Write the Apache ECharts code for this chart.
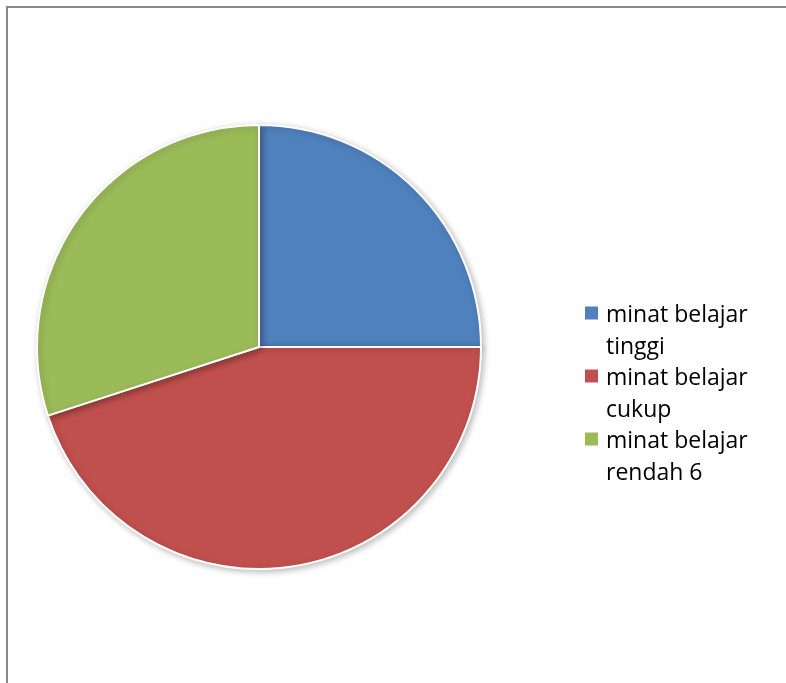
<!DOCTYPE html>
<html>
<head>
<meta charset="utf-8">
<script src="https://cdn.jsdelivr.net/npm/echarts@6/dist/echarts.min.js"></script>
<style>
html,body{margin:0;padding:0;background:#fff;}
#chart{width:786px;height:683px;}
</style>
</head>
<body>
<div id="chart"></div>
<script>
var categories = ["minat belajar\ntinggi", "minat belajar\ncukup", "minat belajar\nrendah 6"];
var values = [5, 9, 6];
var colors = ["#4F81BD", "#C0504D", "#9BBB59"];

var chart = echarts.init(document.getElementById('chart'), null, {renderer: 'canvas'});
var data = categories.map(function (c, i) {
  return {name: c, value: values[i], itemStyle: {color: colors[i]}};
});
// square marker aligned with the first text line of each two-line legend entry
var legendIcon = 'path://M0,0L0,0Z M0,6.5L13,6.5L13,19.5L0,19.5Z M0,63L0,63Z';
chart.setOption({
  animation: false,
  backgroundColor: '#ffffff',
  graphic: [{
    type: 'rect',
    shape: {x: 7, y: 7, width: 800, height: 700},
    style: {fill: 'none', stroke: '#898989', lineWidth: 2},
    silent: true
  }],
  legend: {
    orient: 'vertical',
    left: 585,
    top: 300,
    padding: 0,
    itemWidth: 13,
    itemHeight: 63,
    itemGap: 0,
    icon: legendIcon,
    itemStyle: {borderWidth: 0, shadowBlur: 0, shadowOffsetX: 0, shadowOffsetY: 0},
    data: categories,
    textStyle: {
      fontFamily: 'Open Sans',
      fontSize: 23,
      lineHeight: 31.5,
      color: '#000000',
      padding: [0, 0, 0, 3]
    }
  },
  series: [{
    type: 'pie',
    center: [259, 347],
    radius: 222,
    startAngle: 90,
    clockwise: true,
    label: {show: false},
    labelLine: {show: false},
    emphasis: {disabled: true},
    itemStyle: {
      borderColor: '#ffffff',
      borderWidth: 2,
      shadowBlur: 6,
      shadowOffsetX: 2,
      shadowOffsetY: 2,
      shadowColor: 'rgba(0,0,0,0.25)'
    },
    data: data
  }]
});
</script>
</body>
</html>
